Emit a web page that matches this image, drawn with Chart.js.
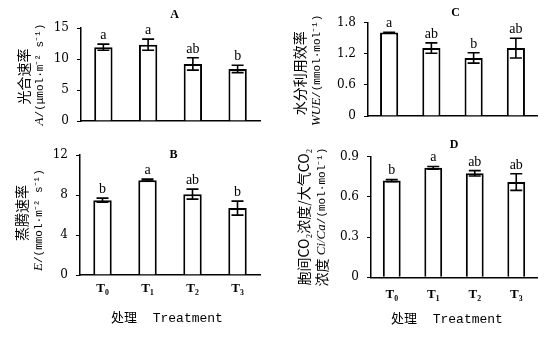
<!DOCTYPE html>
<html><head><meta charset="utf-8">
<script src="https://cdn.jsdelivr.net/npm/chart.js@4"></script>
<style>
html,body{margin:0;padding:0;background:#fff;width:554px;height:338px;overflow:hidden;}
canvas{position:absolute;}
</style></head><body>
<canvas id="cA" width="277" height="140" style="left:0;top:0"></canvas>
<canvas id="cB" width="277" height="198" style="left:0;top:140px"></canvas>
<canvas id="cC" width="277" height="140" style="left:277px;top:0"></canvas>
<canvas id="cD" width="277" height="198" style="left:277px;top:140px"></canvas>
<script>
// ---- data ----
const treatments = ['T₀', 'T₁', 'T₂', 'T₃'];

const photoA = [11.9, 12.3, 9.2, 8.4];
const photoErr = [0.5, 0.9, 1.0, 0.6];
const photoSig = ['a', 'a', 'ab', 'b'];
const photoTicks = [0, 5, 10, 15];

const transE = [7.5, 9.5, 8.1, 6.7];
const transErr = [0.2, 0.1, 0.5, 0.7];
const transSig = ['b', 'a', 'ab', 'b'];
const transTicks = [0, 4, 8, 12];

const wue = [1.61, 1.31, 1.12, 1.31];
const wueErr = [0.005, 0.1, 0.1, 0.19];
const wueSig = ['a', 'ab', 'b', 'ab'];
const wueTicks = [0, 0.6, 1.2, 1.8];

const ciCa = [0.722, 0.817, 0.776, 0.711];
const ciCaErr = [0.008, 0.01, 0.02, 0.062];
const ciCaSig = ['b', 'a', 'ab', 'ab'];
const ciCaTicks = [0, 0.3, 0.6, 0.9];

const xTitleText = '处理  Treatment';

// ---- drawing helpers ----
const CJK = "14px 'Noto Sans CJK SC'";
const MONO = "11px 'Liberation Mono'";
const SERI = "italic 13px 'Liberation Serif'";

function drawRotated(ctx, segs, cx, cy) {
  ctx.save();
  ctx.translate(cx, cy);
  ctx.rotate(-Math.PI / 2);
  let total = 0;
  segs.forEach(s => { ctx.font = s[1]; total += ctx.measureText(s[0]).width; });
  let xx = -total / 2;
  ctx.textAlign = 'left';
  ctx.textBaseline = 'middle';
  ctx.fillStyle = '#000';
  segs.forEach(s => { ctx.font = s[1]; ctx.fillText(s[0], xx, 0); xx += ctx.measureText(s[0]).width; });
  ctx.restore();
}

const panelPlugin = {
  id: 'panel',
  afterDatasetsDraw(chart, args, o) {
    const ctx = chart.ctx, xs = chart.scales.x, ys = chart.scales.y, ca = chart.chartArea;
    const vals = chart.data.datasets[0].data;
    ctx.save();
    ctx.strokeStyle = '#000';
    ctx.fillStyle = '#000';
    ctx.lineWidth = 1.6;
    vals.forEach((v, i) => {
      const px = xs.getPixelForValue(i);
      const e = o.err[i];
      const t = ys.getPixelForValue(v + e), b = ys.getPixelForValue(v - e);
      ctx.beginPath();
      ctx.moveTo(px, t); ctx.lineTo(px, b);
      ctx.moveTo(px - 6, t); ctx.lineTo(px + 6, t);
      ctx.moveTo(px - 6, b); ctx.lineTo(px + 6, b);
      ctx.stroke();
      ctx.font = "14px 'Liberation Serif'";
      ctx.textAlign = 'center';
      ctx.textBaseline = 'alphabetic';
      ctx.fillText(o.sig[i], px, t - 5);
    });
    ctx.font = "bold 12px 'Liberation Serif'";
    ctx.textAlign = 'center';
    ctx.textBaseline = 'middle';
    ctx.fillText(o.letter, (ca.left + ca.right) / 2 + o.letterDx, ca.top + o.letterDy);
    const cy = (ca.top + ca.bottom) / 2;
    o.yTitle.forEach(line => drawRotated(ctx, line.segs, line.x, cy + (line.dy || 0)));
    if (o.xTitle) {
      ctx.font = "13px 'Liberation Mono', 'Noto Sans CJK SC'";
      ctx.textAlign = 'center';
      ctx.textBaseline = 'middle';
      ctx.fillText(o.xTitle.text, o.xTitle.x, o.xTitle.y);
    }
    ctx.restore();
  }
};

function makeChart(id, p) {
  new Chart(document.getElementById(id), {
    type: 'bar',
    data: {
      labels: treatments,
      datasets: [{
        data: p.values,
        backgroundColor: '#fff',
        borderColor: '#000',
        borderWidth: 2,
        categoryPercentage: 1,
        barPercentage: p.barPct
      }]
    },
    options: {
      responsive: false,
      animation: false,
      devicePixelRatio: 1,
      layout: { padding: { left: 0, top: p.top, right: p.right, bottom: 0 } },
      plugins: {
        legend: { display: false },
        tooltip: { enabled: false },
        panel: p.panel
      },
      scales: {
        x: {
          offset: true,
          grid: { display: false, drawTicks: false },
          border: { display: true, color: '#000', width: 1.5 },
          ticks: {
            display: p.showX,
            color: '#000',
            padding: p.xPad,
            font: { family: "'Liberation Serif'", size: 13, weight: 'bold' }
          },
          afterFit: s => { s.height = p.xH; }
        },
        y: {
          min: p.ticks[0],
          max: p.ticks[p.ticks.length - 1],
          afterBuildTicks: s => { s.ticks = p.ticks.map(v => ({ value: v })); },
          grid: { drawOnChartArea: false, drawTicks: true, tickLength: 4, color: '#000', lineWidth: 1 },
          border: { display: true, color: '#000', width: 1.5 },
          ticks: {
            color: '#000',
            padding: 8,
            font: { family: "'DejaVu Serif'", size: 12 },
            callback: v => String(v)
          },
          afterFit: s => { s.width = p.yW; }
        }
      }
    },
    plugins: [panelPlugin]
  });
}

makeChart('cA', {
  values: photoA, ticks: photoTicks, barPct: 0.41,
  top: 28, right: 17, yW: 81, xH: 19, showX: false, xPad: 8,
  panel: {
    err: photoErr, sig: photoSig, letter: 'A', letterDx: 4, letterDy: -13,
    yTitle: [
      { x: 24, dy: 2, segs: [['光合速率', CJK]] },
      { x: 40, dy: 0, segs: [['A', SERI], ['/(μmol·m⁻² s⁻¹)', MONO]] }
    ]
  }
});

makeChart('cB', {
  values: transE, ticks: transTicks, barPct: 0.41,
  top: 11.7, right: 17, yW: 80, xH: 63, showX: true, xPad: 6,
  panel: {
    err: transErr, sig: transSig, letter: 'B', letterDx: 3.5, letterDy: 0,
    yTitle: [
      { x: 22, dy: -2, segs: [['蒸腾速率', CJK]] },
      { x: 39, dy: 5, segs: [['E', SERI], ['/(mmol·m⁻² s⁻¹)', MONO]] }
    ],
    xTitle: { text: xTitleText, x: 167, y: 179 }
  }
});

makeChart('cC', {
  values: wue, ticks: wueTicks, barPct: 0.43,
  top: 22.7, right: 17, yW: 91, xH: 24, showX: false, xPad: 8,
  panel: {
    err: wueErr, sig: wueSig, letter: 'C', letterDx: 3, letterDy: -9.4,
    yTitle: [
      { x: 23, dy: 4, segs: [['水分利用效率', CJK]] },
      { x: 40, dy: 1, segs: [['WUE', SERI], ['/(mmol·mol⁻¹)', MONO]] }
    ]
  }
});

makeChart('cD', {
  values: ciCa, ticks: ciCaTicks, barPct: 0.43,
  top: 16.7, right: 17, yW: 94, xH: 60.7, showX: true, xPad: 10,
  panel: {
    err: ciCaErr, sig: ciCaSig, letter: 'D', letterDx: 0, letterDy: -12,
    yTitle: [
      { x: 27, dy: 0, segs: [['胞间CO₂浓度/大气CO₂', CJK]] },
      { x: 45, dy: 0, segs: [['浓度 ', CJK], ['Ci/Ca', SERI], ['/(mol·mol⁻¹)', MONO]] }
    ],
    xTitle: { text: xTitleText, x: 170, y: 180 }
  }
});
</script>
</body></html>
